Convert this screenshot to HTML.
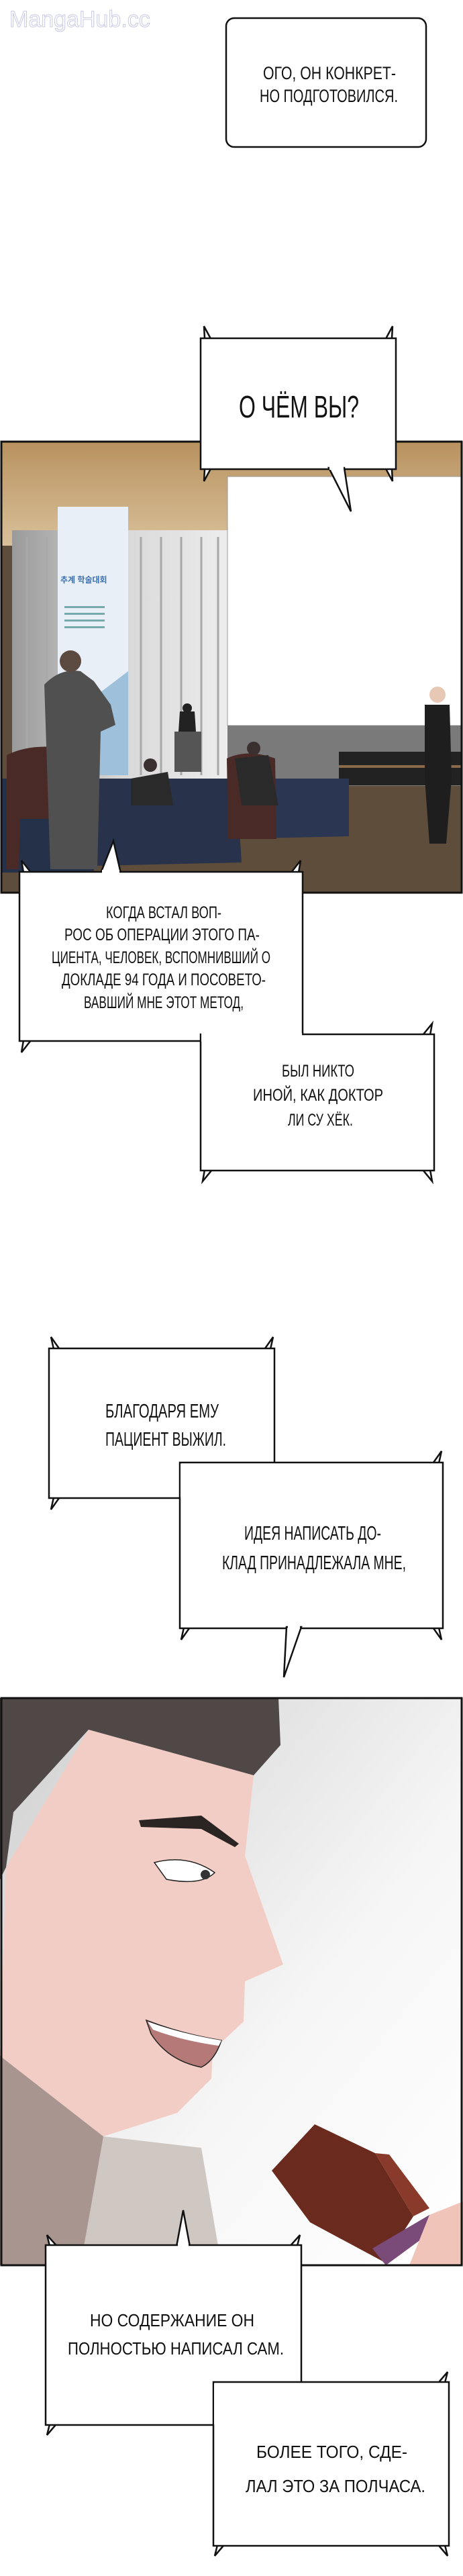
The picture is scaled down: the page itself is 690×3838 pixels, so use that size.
<!DOCTYPE html>
<html><head><meta charset="utf-8">
<style>
html,body{margin:0;padding:0;background:#fff;}
svg{display:block;}
text{font-family:"Liberation Sans","Noto Sans CJK KR",sans-serif;fill:#111;}
</style></head>
<body>
<svg width="690" height="3838" viewBox="0 0 690 3838" xmlns="http://www.w3.org/2000/svg">
<defs>
<linearGradient id="ceil" x1="0" y1="0" x2="0" y2="1"><stop offset="0" stop-color="#b8925f"/><stop offset="1" stop-color="#d9c09a"/></linearGradient>
<linearGradient id="curt" x1="0" y1="0" x2="1" y2="0"><stop offset="0" stop-color="#9a9a9a"/><stop offset="0.5" stop-color="#d8d8d8"/><stop offset="1" stop-color="#eeeeee"/></linearGradient>
<linearGradient id="bg2" x1="0" y1="0" x2="1" y2="1"><stop offset="0" stop-color="#cfcfcf"/><stop offset="0.6" stop-color="#f6f6f6"/><stop offset="1" stop-color="#ffffff"/></linearGradient>
</defs>

<!-- watermark -->
<text x="14" y="40" font-size="34" style="fill:#fff;stroke:#c9c9e6;stroke-width:1">MangaHub.cc</text>

<!-- box 1 -->
<rect x="337" y="27" width="298" height="192" rx="12" fill="#fff" stroke="#111" stroke-width="2.5"/>
<text x="392" y="118" font-size="27" textLength="198" lengthAdjust="spacingAndGlyphs">ОГО, ОН КОНКРЕТ-</text>
<text x="387" y="152" font-size="27" textLength="206" lengthAdjust="spacingAndGlyphs">НО ПОДГОТОВИЛСЯ.</text>

<!-- PANEL 1 -->
<g>
<rect x="2" y="658" width="686" height="672" fill="#5e4d3a"/>
<rect x="2" y="658" width="686" height="155" fill="url(#ceil)"/>
<rect x="18" y="790" width="330" height="370" fill="url(#curt)"/>
<g stroke="#a8a8a8" stroke-width="3">
<line x1="40" y1="800" x2="40" y2="1155"/><line x1="70" y1="800" x2="70" y2="1155"/><line x1="210" y1="800" x2="210" y2="1155"/><line x1="240" y1="800" x2="240" y2="1155"/><line x1="270" y1="800" x2="270" y2="1155"/><line x1="300" y1="800" x2="300" y2="1155"/><line x1="325" y1="800" x2="325" y2="1155"/>
</g>
<rect x="86" y="755" width="105" height="400" fill="#e8eff7"/>
<polygon points="86,1080 191,1000 191,1155 86,1155" fill="#9fc0da"/>
<text x="90" y="868" font-size="12" fill="#3a6fb0" style="fill:#3a6fb0;font-weight:bold">추계 학술대회</text>
<rect x="96" y="903" width="60" height="3" fill="#7aa"/><rect x="96" y="913" width="60" height="3" fill="#7aa"/><rect x="96" y="923" width="60" height="3" fill="#7aa"/><rect x="96" y="933" width="60" height="3" fill="#7aa"/>
<rect x="339" y="710" width="349" height="371" fill="#fff" stroke="#999" stroke-width="1"/>
<rect x="339" y="1081" width="349" height="90" fill="#7a7a7a"/>
<rect x="505" y="1120" width="183" height="50" fill="#222"/>
<rect x="505" y="1140" width="183" height="4" fill="#8a6a4a"/>
<rect x="260" y="1090" width="40" height="60" fill="#555"/>
<!-- tables -->
<path d="M136,1160 L352,1160 L360,1285 L140,1290 Z" fill="#28324a"/>
<path d="M339,1160 L520,1160 L520,1246 L345,1250 Z" fill="#2b3652"/>
<path d="M2,1160 L140,1160 L140,1300 L2,1300 Z" fill="#253049"/>
<!-- chairs -->
<path d="M10,1125 Q60,1100 140,1125 L140,1295 L120,1295 L118,1220 L30,1220 L28,1295 L10,1295 Z" fill="#4a2a26"/>
<path d="M338,1130 Q370,1115 410,1130 L412,1250 L340,1250 Z" fill="#4a2a26"/>
<!-- standing man -->
<path d="M66,1020 Q90,995 120,1000 L140,1015 L165,1050 L172,1080 L150,1090 L145,1295 L75,1295 L70,1140 Z" fill="#505050"/>
<circle cx="105" cy="985" r="16" fill="#5a4a40"/>
<!-- seated -->
<path d="M195,1160 L250,1150 L258,1200 L195,1200 Z" fill="#2a2a2a"/><circle cx="224" cy="1140" r="10" fill="#3a3030"/>
<path d="M350,1130 L400,1125 L415,1200 L360,1200 Z" fill="#2a2a2a"/><circle cx="378" cy="1115" r="10" fill="#3a3030"/>
<path d="M268,1060 L290,1060 L292,1090 L266,1090 Z" fill="#222"/><circle cx="279" cy="1055" r="7" fill="#222"/>
<!-- right man -->
<path d="M633,1050 L670,1050 L673,1160 L665,1257 L640,1257 L633,1160 Z" fill="#1e1e1e"/>
<circle cx="652" cy="1035" r="12" fill="#e6c8b4"/>
<rect x="2" y="658" width="686" height="672" fill="none" stroke="#111" stroke-width="3"/>
</g>

<!-- bubble 2 -->
<g stroke="#111" stroke-width="2.5" fill="#fff">
<polygon points="305,504 304,486 318,512"/><polygon points="584,504 585,486 571,512"/>
<polygon points="305,699 304,717 318,691"/><polygon points="584,699 585,717 571,691"/>
<rect x="299" y="504" width="291" height="195"/>
<polygon points="490,697 523,762 513,697"/>
</g>
<rect x="491" y="694" width="21" height="6" fill="#fff"/>
<text x="356" y="622" font-size="46" textLength="179" lengthAdjust="spacingAndGlyphs">О ЧЁМ ВЫ?</text>

<!-- bubble 3/4 -->
<g stroke="#111" stroke-width="2.5" fill="#fff">
<polygon points="150,1301 169,1253 180,1301"/>
<polygon points="35,1300 32,1282 50,1305"/><polygon points="445,1300 448,1282 430,1305"/>
<polygon points="35,1550 32,1568 50,1545"/>
<polygon points="305,1743 302,1760 320,1738"/><polygon points="641,1743 644,1760 626,1738"/><polygon points="641,1542 644,1525 626,1547"/>
<rect x="29" y="1299" width="422" height="252"/>
<rect x="299" y="1541" width="348" height="203"/>
</g>
<rect x="152" y="1296" width="26" height="6" fill="#fff"/>
<rect x="300" y="1539" width="150" height="13" fill="#fff"/>
<g font-size="25">
<text x="158" y="1368" textLength="172" lengthAdjust="spacingAndGlyphs">КОГДА ВСТАЛ ВОП-</text>
<text x="96" y="1401" textLength="291" lengthAdjust="spacingAndGlyphs">РОС ОБ ОПЕРАЦИИ ЭТОГО ПА-</text>
<text x="77" y="1435" textLength="326" lengthAdjust="spacingAndGlyphs">ЦИЕНТА, ЧЕЛОВЕК, ВСПОМНИВШИЙ О</text>
<text x="92" y="1468" textLength="304" lengthAdjust="spacingAndGlyphs">ДОКЛАДЕ 94 ГОДА И ПОСОВЕТО-</text>
<text x="125" y="1502" textLength="238" lengthAdjust="spacingAndGlyphs">ВАВШИЙ МНЕ ЭТОТ МЕТОД,</text>
<text x="420" y="1604" textLength="108" lengthAdjust="spacingAndGlyphs">БЫЛ НИКТО</text>
<text x="377" y="1640" textLength="194" lengthAdjust="spacingAndGlyphs">ИНОЙ, КАК ДОКТОР</text>
<text x="429" y="1677" textLength="97" lengthAdjust="spacingAndGlyphs">ЛИ СУ ХЁК.</text>
</g>

<!-- bubble 5/6 -->
<g stroke="#111" stroke-width="2.5" fill="#fff">
<polygon points="80,2010 76,1992 93,2016"/><polygon points="403,2010 407,1992 390,2016"/>
<polygon points="80,2231 76,2249 93,2225"/>
<polygon points="654,2180 658,2162 641,2186"/>
<polygon points="274,2425 270,2443 287,2419"/><polygon points="654,2425 658,2443 641,2419"/>
<rect x="73" y="2009" width="336" height="223"/>
<rect x="268" y="2179" width="392" height="247"/>
<polygon points="427,2424 423,2499 449,2424"/>
</g>
<rect x="269" y="2181" width="139" height="50" fill="#fff"/>
<rect x="429" y="2421" width="18" height="6" fill="#fff"/>
<g font-size="29">
<text x="157" y="2112" textLength="169" lengthAdjust="spacingAndGlyphs">БЛАГОДАРЯ ЕМУ</text>
<text x="157" y="2154" textLength="180" lengthAdjust="spacingAndGlyphs">ПАЦИЕНТ ВЫЖИЛ.</text>
<text x="364" y="2294" textLength="204" lengthAdjust="spacingAndGlyphs">ИДЕЯ НАПИСАТЬ ДО-</text>
<text x="331" y="2338" textLength="274" lengthAdjust="spacingAndGlyphs">КЛАД ПРИНАДЛЕЖАЛА МНЕ,</text>
</g>

<!-- PANEL 2 -->
<g>
<rect x="2" y="2530" width="686" height="845" fill="url(#bg2)"/>
<polygon points="0,3063 154,3183 300,3200 330,3375 0,3375" fill="#cfc7c2"/>
<polygon points="0,3063 154,3183 120,3375 0,3375" fill="#a99590"/>
<polygon points="9,2782 132,2577 378,2645 365,2765 422,2927 365,2952 363,3012 317,3055 315,3097 264,3148 154,3183 0,3063" fill="#f2cdc5"/>
<polygon points="0,2530 415,2530 418,2600 378,2645 132,2577 20,2700 9,2782 0,2800" fill="#4f4846"/>
<polygon points="207,2712 300,2705 356,2747 350,2752 300,2725 210,2722" fill="#2a2422"/>
<path d="M230,2775 Q280,2762 320,2790 Q300,2810 248,2800 Z" fill="#fff" stroke="#222" stroke-width="1.5"/>
<circle cx="306" cy="2793" r="7" fill="#333"/>
<path d="M218,3010 Q270,3030 330,3040 Q320,3070 300,3080 Q250,3070 225,3030 Z" fill="#b57a78" stroke="#222" stroke-width="1.5"/>
<path d="M220,3012 Q270,3030 330,3040 L326,3048 Q270,3040 228,3024 Z" fill="#fff"/>
<polygon points="405,3234 469,3165 559,3208 616,3302 572,3370 462,3311" fill="#6a2a1e"/>
<polygon points="559,3208 616,3302 640,3290 580,3210" fill="#8a3a2a"/>
<polygon points="555,3350 640,3300 650,3320 575,3375" fill="#7a4a78"/>
<polygon points="640,3300 690,3280 690,3375 610,3375" fill="#f0c4b8"/>
<rect x="2" y="2530" width="686" height="845" fill="none" stroke="#111" stroke-width="3"/>
</g>

<!-- bubble 7/8 -->
<g stroke="#111" stroke-width="2.5" fill="#fff">
<polygon points="263,3347 273,3293 283,3347"/>
<polygon points="74,3346 70,3330 88,3350"/><polygon points="443,3346 447,3330 429,3350"/>
<polygon points="74,3612 70,3628 88,3607"/>
<polygon points="663,3550 667,3534 649,3555"/>
<polygon points="324,3792 320,3808 338,3787"/><polygon points="663,3792 667,3808 649,3787"/>
<rect x="68" y="3345" width="381" height="268"/>
<rect x="318" y="3549" width="351" height="244"/>
</g>
<rect x="265" y="3342" width="16" height="6" fill="#fff"/>
<rect x="319" y="3551" width="129" height="61" fill="#fff"/>
<g font-size="26">
<text x="134" y="3466" textLength="245" lengthAdjust="spacingAndGlyphs">НО СОДЕРЖАНИЕ ОН</text>
<text x="101" y="3508" textLength="322" lengthAdjust="spacingAndGlyphs">ПОЛНОСТЬЮ НАПИСАЛ САМ.</text>
<text x="382" y="3662" textLength="225" lengthAdjust="spacingAndGlyphs">БОЛЕЕ ТОГО, СДЕ-</text>
<text x="366" y="3713" textLength="268" lengthAdjust="spacingAndGlyphs">ЛАЛ ЭТО ЗА ПОЛЧАСА.</text>
</g>
</svg>
</body></html>
